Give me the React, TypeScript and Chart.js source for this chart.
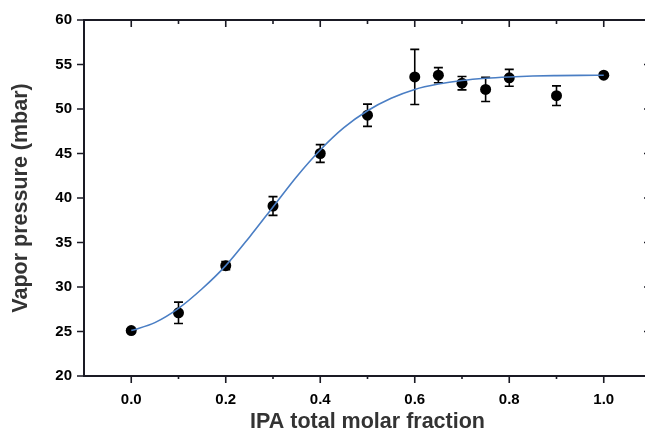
import React, { useEffect, useRef } from "react";
import { Chart, registerables } from "chart.js";

Chart.register(...registerables);

const xValues = [0, 0.1, 0.2, 0.3, 0.4, 0.5, 0.6, 0.65, 0.7, 0.75, 0.8, 0.9, 1.0];
const yValues = [25.1, 27.1, 32.4, 39.1, 45.0, 49.3, 53.6, 53.8, 52.9, 52.2, 53.5, 51.5, 53.8];
const yErrors = [0.2, 1.2, 0.45, 1.05, 1.0, 1.25, 3.1, 0.85, 0.75, 1.35, 0.95, 1.1, 0];

const fitX = [0, 0.05, 0.1, 0.15, 0.2, 0.25, 0.3, 0.35, 0.4, 0.45, 0.5, 0.55, 0.6, 0.65, 0.7, 0.75, 0.8, 0.85, 0.9, 0.95, 1.0];
const fitY = [25.1, 26.0, 27.6, 29.8, 32.4, 35.6, 39.0, 42.4, 45.4, 47.9, 49.8, 51.2, 52.2, 52.8, 53.2, 53.45, 53.6, 53.7, 53.75, 53.78, 53.8];

const xTitle = "IPA total molar fraction";
const yTitle = "Vapor pressure (mbar)";

const FONT = "'Liberation Sans', Arial, sans-serif";

const errorBarPlugin = {
  id: "errorBars",
  beforeDatasetsDraw(chart: any) {
    const ctx = chart.ctx;
    const xs = chart.scales.x;
    const ys = chart.scales.y;
    ctx.save();
    ctx.strokeStyle = "#000";
    ctx.lineWidth = 1.6;
    xValues.forEach((xv, i) => {
      const e = yErrors[i];
      if (!e) return;
      const px = xs.getPixelForValue(xv);
      const top = ys.getPixelForValue(yValues[i] + e);
      const bot = ys.getPixelForValue(yValues[i] - e);
      ctx.beginPath();
      ctx.moveTo(px, top);
      ctx.lineTo(px, bot);
      ctx.moveTo(px - 4.5, top);
      ctx.lineTo(px + 4.5, top);
      ctx.moveTo(px - 4.5, bot);
      ctx.lineTo(px + 4.5, bot);
      ctx.stroke();
    });
    ctx.restore();
  },
};

const framePlugin = {
  id: "frame",
  afterDraw(chart: any) {
    const ctx = chart.ctx;
    const area = chart.chartArea;
    const xs = chart.scales.x;
    const ys = chart.scales.y;
    ctx.save();
    ctx.strokeStyle = "#1a1a24";
    ctx.lineWidth = 2;
    ctx.beginPath();
    ctx.moveTo(area.left - 1, area.top);
    ctx.lineTo(area.right, area.top);
    ctx.stroke();
    ctx.lineWidth = 1.6;
    ctx.beginPath();
    xs.ticks.forEach((t: any) => {
      const v = t.value;
      const n = Math.round(v * 10);
      if (n <= -1 || n >= 11) return;
      const px = xs.getPixelForValue(v);
      const major = n % 2 === 0;
      ctx.moveTo(px, area.bottom);
      ctx.lineTo(px, area.bottom + (major ? 7 : 3));
      ctx.moveTo(px, area.top);
      ctx.lineTo(px, area.top + (major ? 7 : 4));
    });
    ys.ticks.forEach((t: any) => {
      const py = ys.getPixelForValue(t.value);
      ctx.moveTo(area.left, py);
      ctx.lineTo(area.left - 7, py);
      ctx.moveTo(area.right, py);
      ctx.lineTo(area.right - 7, py);
    });
    ctx.stroke();
    ctx.restore();
  },
};

export default function App() {
  const ref = useRef<HTMLCanvasElement | null>(null);
  useEffect(() => {
    if (!ref.current) return;
    const chart = new Chart(ref.current, {
      type: "scatter",
      data: {
        datasets: [
          {
            type: "line",
            data: fitX.map((x, i) => ({ x, y: fitY[i] })),
            borderColor: "rgb(74,126,196)",
            borderWidth: 1.6,
            pointRadius: 0,
            cubicInterpolationMode: "monotone",
            fill: false,
          } as any,
          {
            type: "scatter",
            data: xValues.map((x, i) => ({ x, y: yValues[i] })),
            backgroundColor: "#000",
            borderColor: "#000",
            pointRadius: 5.5,
            pointHoverRadius: 5.5,
            borderWidth: 0,
          },
        ],
      },
      options: {
        responsive: false,
        animation: false,
        events: [],
        layout: { padding: { top: 20, right: 9, left: 0, bottom: 0 } },
        plugins: { legend: { display: false }, tooltip: { enabled: false } },
        scales: {
          x: {
            type: "linear",
            min: -0.1,
            max: 1.1,
            afterFit: (s: any) => {
              s.height = 55;
            },
            ticks: {
              stepSize: 0.1,
              autoSkip: false,
              maxRotation: 0,
              padding: 8,
              color: "#000",
              font: { family: FONT, size: 15, weight: "bold" },
              callback: (v: any) => {
                const n = Math.round(Number(v) * 10);
                if (n < 0 || n > 10 || n % 2 !== 0) return "";
                return (n / 10).toFixed(1);
              },
            },
            grid: { display: true, drawOnChartArea: false, drawTicks: true, tickLength: 7, tickColor: "rgba(0,0,0,0)" },
            border: { display: true, color: "#1a1a24", width: 2 },
            title: {
              display: true,
              text: xTitle,
              color: "#333",
              font: { family: FONT, size: 21.5, weight: "bold" },
              padding: { top: 0, bottom: -4 },
            },
          },
          y: {
            type: "linear",
            min: 20,
            max: 60,
            afterFit: (s: any) => {
              s.width = 84;
            },
            ticks: {
              stepSize: 5,
              padding: 5,
              color: "#000",
              font: { family: FONT, size: 15, weight: "bold" },
            },
            grid: { display: true, drawOnChartArea: false, drawTicks: true, tickLength: 7, tickColor: "rgba(0,0,0,0)" },
            border: { display: true, color: "#1a1a24", width: 2 },
            title: {
              display: true,
              text: yTitle,
              color: "#333",
              font: { family: FONT, size: 21.5, weight: "bold" },
              padding: { top: 8, bottom: 0 },
            },
          },
        },
      },
      plugins: [errorBarPlugin, framePlugin],
    });
    return () => chart.destroy();
  }, []);
  return (
    <div style={{ position: "fixed", left: 0, top: 0, width: 645, height: 431, overflow: "hidden", background: "#fff" }}>
      <canvas ref={ref} width={660} height={431} style={{ display: "block" }} />
    </div>
  );
}
